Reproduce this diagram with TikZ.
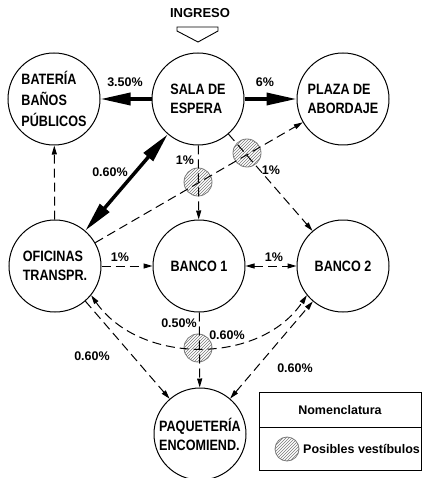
\documentclass[tikz,border=0pt]{standalone}
\usepackage{fontspec}
\setmainfont{Liberation Sans}
\newfontfamily\roomfont{Liberation Sans}[FakeStretch=0.84]
\usepackage{tikz}
\usetikzlibrary{arrows.meta,patterns}
\definecolor{hatchgray}{HTML}{7a7a7a}

\tikzset{
  room/.style={circle, draw, line width=1pt, minimum size=92pt, inner sep=0pt,
    align=left, font=\roomfont\bfseries\fontsize{15}{19}\selectfont},
  pct/.style={font=\bfseries\fontsize{12.5}{14}\selectfont, inner sep=0pt},
  bigtip/.tip={Triangle[length=30pt,width=12pt]},
  smalltip/.tip={Triangle[length=9pt,width=5pt]},
  strong/.style={line width=3.5pt},
  weak/.style={line width=1pt, dash pattern=on 9pt off 5pt},
  vest/.style={circle, draw=hatchgray, line width=0.8pt, pattern=north east lines,
    pattern color=hatchgray, minimum size=28pt, inner sep=0pt}
}

\begin{document}
\begin{tikzpicture}[x=1pt, y=-1pt]
  \useasboundingbox (0,0) rectangle (422,478);

  % Entrance
  \node[pct, font=\bfseries\fontsize{13}{14}\selectfont] (ingreso) at (200,13) {INGRESO};
  \draw[line width=0.9pt] (177,27) -- (218,27) -- (218,31) -- (198,42) -- (177,31) -- cycle;

  % Rooms
  \node[room] (bat)  at (54,99)   {BATERÍA\\[2pt]BAÑOS\\[2pt]PÚBLICOS};
  \node[room] (sala) at (198,99)  {SALA DE\\ESPERA};
  \node[room] (plaza) at (343,99) {PLAZA DE\\ABORDAJE};
  \node[room] (ofi)  at (55,266)  {OFICINAS\\TRANSPR.};
  \node[room] (b1)   at (199,266) {BANCO 1};
  \node[room] (b2)   at (343,266) {BANCO 2};
  \node[room] (paq)  at (200,434) {PAQUETERÍA\\ENCOMIEND.};

  % Possible vestibules
  \node[vest] (v1) at (198,182) {};
  \node[vest] (v2) at (247,153) {};
  \node[vest] (v3) at (198,348) {};

  % Main flows (thick)
  \draw[strong, -bigtip] (sala) -- (bat);
  \draw[strong, -bigtip] (sala) -- (plaza);
  \draw[strong, bigtip-bigtip] (ofi) -- (sala);

  % Secondary flows (dashed)
  \draw[weak, -smalltip] (ofi) -- (bat);
  \draw[weak, -smalltip] (ofi) -- (plaza);
  \draw[weak, -smalltip] (sala) -- (b1);
  \draw[weak, -smalltip] (sala) -- (b2);
  \draw[weak, -smalltip] (ofi) -- (b1);
  \draw[weak, smalltip-smalltip] (b1) -- (b2);
  \draw[weak, -smalltip] (b1) -- (paq);
  \draw[weak, smalltip-smalltip] (ofi.-39) .. controls (140,365) and (260,365) .. (b2.-141);
  \draw[weak, -smalltip] (ofi) -- (paq);
  \draw[weak, smalltip-smalltip] (paq) -- (b2);

  % Percentages
  \node[pct] (p1) at (125,82)  {3.50\%};
  \node[pct] (p2) at (265,82)  {6\%};
  \node[pct] (p3) at (110,172) {0.60\%};
  \node[pct] (p4) at (185,160) {1\%};
  \node[pct] (p5) at (271,170) {1\%};
  \node[pct] (p6) at (120,257) {1\%};
  \node[pct] (p7) at (274,257) {1\%};
  \node[pct] (p8) at (179,323) {0.50\%};
  \node[pct] (p9) at (227,335) {0.60\%};
  \node[pct] (p10) at (92,356) {0.60\%};
  \node[pct] (p11) at (295,368) {0.60\%};

  % Legend
  \draw[line width=0.8pt] (259,392) rectangle (421.5,470);
  \draw[line width=0.8pt] (259,427) -- (421.5,427);
  \node[pct] (nom) at (340,410) {Nomenclatura};
  \node[vest, minimum size=24pt] (vleg) at (287,449) {};
  \node[pct, anchor=west] (vtxt) at (303,449) {Posibles vestíbulos};
\end{tikzpicture}
\end{document}
